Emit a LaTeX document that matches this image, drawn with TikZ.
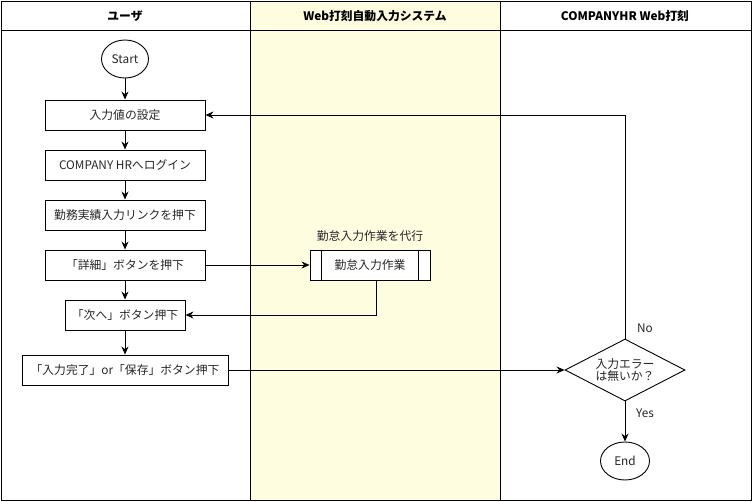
\documentclass[tikz,border=0pt]{standalone}
\usepackage{fontspec}
\setmainfont{Noto Sans CJK JP}
\usetikzlibrary{shapes.geometric,arrows.meta,positioning}
\definecolor{lanefill}{HTML}{FFFDE0}
\definecolor{txt}{HTML}{262626}
\begin{document}
\begin{tikzpicture}[x=1pt,y=-1pt,
  every node/.style={font=\fontsize{11.8}{13.5}\selectfont, text=txt},
  proc/.style={draw, line width=0.9pt, minimum height=30pt, inner sep=0pt},
  term/.style={draw, line width=0.9pt, ellipse, minimum width=47pt, minimum height=38pt, inner sep=0pt},
  conn/.style={line width=0.9pt, -{Stealth[length=8pt,width=7pt]}},
  hdr/.style={font=\bfseries\fontsize{11.8}{13.5}\selectfont, text=black}]
\useasboundingbox (0,0) rectangle (752,501);
% lanes
\fill[lanefill] (250,1) rectangle (500,500);
\draw[line width=0.9pt] (1,1) rectangle (751,500);
\draw[line width=0.9pt] (1,30) -- (751,30);
\draw[line width=0.9pt] (250,1) -- (250,500);
\draw[line width=0.9pt] (500,1) -- (500,500);
\node[hdr] (h1) at (125,16) {ユーザ};
\node[hdr] (h2) at (375,16) {Web打刻自動入力システム};
\node[hdr] (h3) at (625,16) {COMPANYHR Web打刻};
% user lane
\node[term] (start) at (125,59) {Start};
\node[proc, minimum width=160pt] (n1) at (125,115) {入力値の設定};
\node[proc, minimum width=160pt] (n2) at (125,165) {COMPANY HRへログイン};
\node[proc, minimum width=160pt] (n3) at (125,215) {勤務実績入力リンクを押下};
\node[proc, minimum width=160pt] (n4) at (125,265) {「詳細」ボタンを押下};
\node[proc, minimum width=120pt] (n5) at (125,315) {「次へ」ボタン押下};
\node[proc, minimum width=206pt] (n6) at (125,370) {「入力完了」or「保存」ボタン押下};
% system lane
\node[proc, minimum width=120pt, fill=white] (sub) at (370,265) {勤怠入力作業};
\draw[line width=0.9pt] ([xshift=12pt]sub.north west) -- ([xshift=12pt]sub.south west);
\draw[line width=0.9pt] ([xshift=-12pt]sub.north east) -- ([xshift=-12pt]sub.south east);
\node (sublbl) at (370,236) {勤怠入力作業を代行};
\coordinate (subout) at ([xshift=6pt]sub.south);
% HR lane
\node[draw, line width=0.9pt, diamond, aspect=1.95, minimum width=120pt, minimum height=62pt, inner sep=0pt, align=center, fill=white] (dec) at (625,370) {入力エラー\\[-2pt]は無いか？};
\node[term, minimum width=49pt] (end) at (625,461) {End};
% connectors
\draw[conn] (start) -- (n1);
\draw[conn] (n1) -- (n2);
\draw[conn] (n2) -- (n3);
\draw[conn] (n3) -- (n4);
\draw[conn] (n4) -- (n5);
\draw[conn] (n5) -- (n6);
\draw[conn] (n4.east) -- (sub.west);
\draw[conn] (subout) |- (n5.east);
\draw[conn] (n6.east) -- (dec.west);
\draw[conn] (dec.north) |- (n1.east);
\draw[conn] (dec.south) -- (end.north);
\node (no) at (645,328) {No};
\node (yes) at (645,413) {Yes};
\end{tikzpicture}
\end{document}
